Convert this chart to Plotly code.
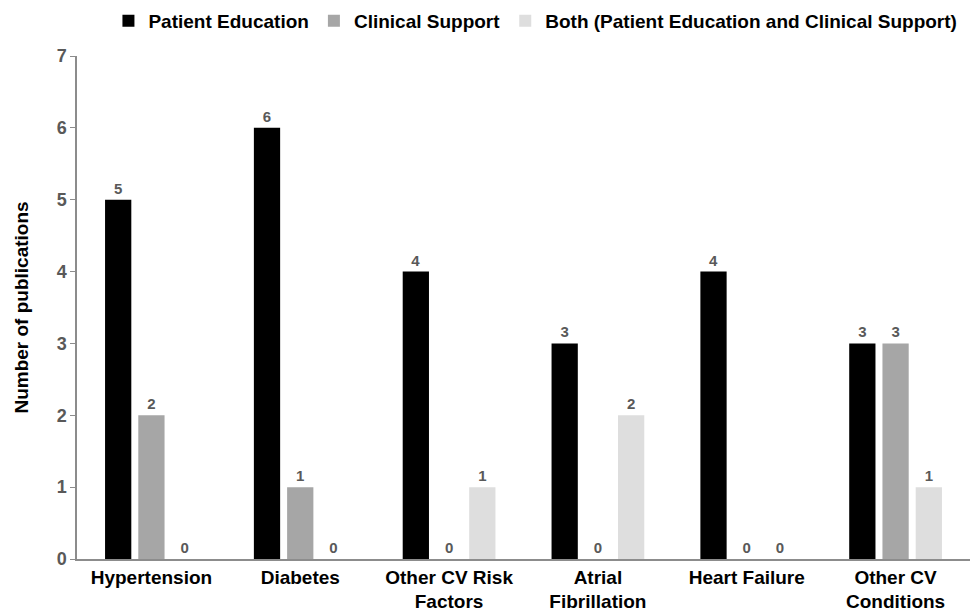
import plotly.graph_objects as go

categories = ["Hypertension", "Diabetes", "Other CV Risk<br>Factors",
              "Atrial<br>Fibrillation", "Heart Failure", "Other CV<br>Conditions"]
patient_education = [5, 6, 4, 3, 4, 3]
clinical_support = [2, 1, 0, 0, 0, 3]
both = [0, 0, 1, 2, 0, 1]

series = [
    ("Patient Education", patient_education, "#000000"),
    ("Clinical Support", clinical_support, "#a6a6a6"),
    ("Both (Patient Education and Clinical Support)", both, "#dedede"),
]

FONT = "Arial, Liberation Sans, sans-serif"

fig = go.Figure()
for name, vals, color in series:
    fig.add_trace(go.Bar(
        name=name, x=categories, y=vals,
        marker=dict(color=color, line=dict(width=0)),
        text=vals, texttemplate="<b>%{text}</b>", textposition="outside",
        textfont=dict(family=FONT, size=15, color="#595959"),
        cliponaxis=False,
    ))

fig.update_layout(
    width=970, height=614,
    margin=dict(l=77, r=0, t=56, b=55),
    paper_bgcolor="white", plot_bgcolor="white",
    barmode="group", bargap=0.33, bargroupgap=0.21,
    font=dict(family=FONT),
    showlegend=True,
    legend=dict(
        orientation="h", x=0.552, xanchor="center", xref="container",
        y=0.997, yanchor="top", yref="container",
        font=dict(family=FONT, size=19, color="#000000", weight="bold"),
        itemwidth=30, traceorder="normal",
    ),
    xaxis=dict(
        showline=True, linecolor="#8c8c8c", linewidth=1.5,
        ticks="", showgrid=False,
        tickfont=dict(family=FONT, size=19, color="#000000", weight="bold"),
    ),
    yaxis=dict(
        range=[0, 7], dtick=1, showline=True, linecolor="#8c8c8c", linewidth=1.5,
        ticks="outside", ticklen=5, tickcolor="#8c8c8c", showgrid=False, zeroline=False,
        tickfont=dict(family=FONT, size=18, color="#595959", weight="bold"),
        title=dict(text="Number of publications", standoff=23,
                   font=dict(family=FONT, size=19, color="#000000", weight="bold")),
    ),
)

fig.write_html("out.html")
